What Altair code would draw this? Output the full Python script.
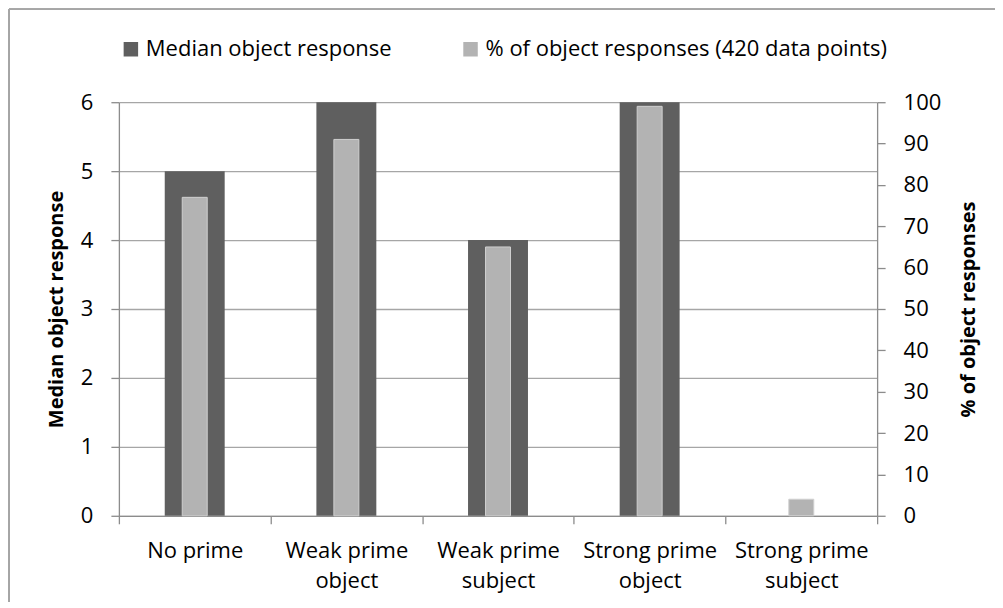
import altair as alt
import pandas as pd

categories = ["No prime", "Weak prime\nobject", "Weak prime\nsubject", "Strong prime\nobject", "Strong prime\nsubject"]
median_response = [5, 6, 4, 6, 0]
pct_object = [77, 91, 65, 99, 4]

series_names = ["Median object response", "% of object responses (420 data points)"]
series_colors = ["#5f5f5f", "#b3b3b3"]

df = pd.DataFrame({"category": categories, "median": median_response, "pct": pct_object})

FONT = "Open Sans"
FS = 22
TFS = 20

x_enc = alt.X(
    "category:N",
    sort=categories,
    scale=alt.Scale(paddingInner=0, paddingOuter=0),
    axis=alt.Axis(
        title=None,
        labelAngle=0,
        labelExpr="isValid(datum.value) ? split(datum.value, '\\n') : ''",
        labelLineHeight=30,
        labelPadding=17,
        tickBand="extent",
        tickSize=8,
        grid=False,
        labelFontSize=FS,
        labelFont=FONT,
        labelColor="#000000",
    ),
)

color_enc = alt.Color(
    "series:N",
    scale=alt.Scale(domain=series_names, range=series_colors),
    legend=alt.Legend(
        title=None,
        orient="none",
        legendX=1,
        legendY=-64,
        direction="horizontal",
        symbolType="square",
        symbolSize=210,
        symbolStrokeWidth=0,
        symbolOpacity=1,
        labelFontSize=FS,
        labelFont=FONT,
        labelColor="#000000",
        labelLimit=700,
        labelOffset=4,
        columnPadding=67,
    ),
)

dark = (
    alt.Chart(df)
    .transform_calculate(series="'Median object response'")
    .mark_bar(size=60, strokeWidth=0)
    .encode(
        x=x_enc,
        y=alt.Y(
            "median:Q",
            scale=alt.Scale(domain=[0, 6], nice=False),
            axis=alt.Axis(
                title="Median object response",
                values=[0, 1, 2, 3, 4, 5, 6],
                format="d",
                tickSize=8,
                labelPadding=18,
                titlePadding=14,
                grid=True,
                orient="left",
            ),
        ),
        color=color_enc,
    )
)

light = (
    alt.Chart(df)
    .transform_calculate(series="'% of object responses (420 data points)'")
    .mark_bar(size=25, stroke="#d0d0d0", strokeWidth=1)
    .encode(
        x=x_enc,
        y=alt.Y(
            "pct:Q",
            scale=alt.Scale(domain=[0, 100], nice=False),
            axis=alt.Axis(
                title="% of object responses",
                titleAngle=270,
                values=list(range(0, 101, 10)),
                format="d",
                tickSize=8,
                labelPadding=18,
                titlePadding=38,
                grid=False,
                orient="right",
            ),
        ),
        color=color_enc,
    )
)

border_top = alt.Chart(df).mark_rule(color="#a6a6a6", strokeWidth=1.5).encode(
    x=alt.value(-110), x2=alt.value(890), y=alt.value(-93)
)
border_left = alt.Chart(df).mark_rule(color="#a6a6a6", strokeWidth=1.5).encode(
    x=alt.value(-110), y=alt.value(-93), y2=alt.value(505)
)

chart = (
    alt.layer(dark, light, border_top, border_left)
    .resolve_scale(y="independent")
    .properties(
        width=759,
        height=414,
        autosize=alt.AutoSizeParams(type="none"),
        padding={"left": 111, "top": 94, "right": 118, "bottom": 86},
    )
    .configure_view(stroke=None)
    .configure_axis(
        domainColor="#8c8c8c",
        tickColor="#8c8c8c",
        gridColor="#a6a6a6",
        gridWidth=1.3,
        domainWidth=1.3,
        tickWidth=1.3,
        labelFont=FONT,
        labelFontSize=FS,
        labelColor="#000000",
        titleFont=FONT,
        titleFontSize=TFS,
        titleFontWeight="bold",
        titleColor="#000000",
    )
)

chart.save("out.html", embed_options={"renderer": "svg", "actions": False})
